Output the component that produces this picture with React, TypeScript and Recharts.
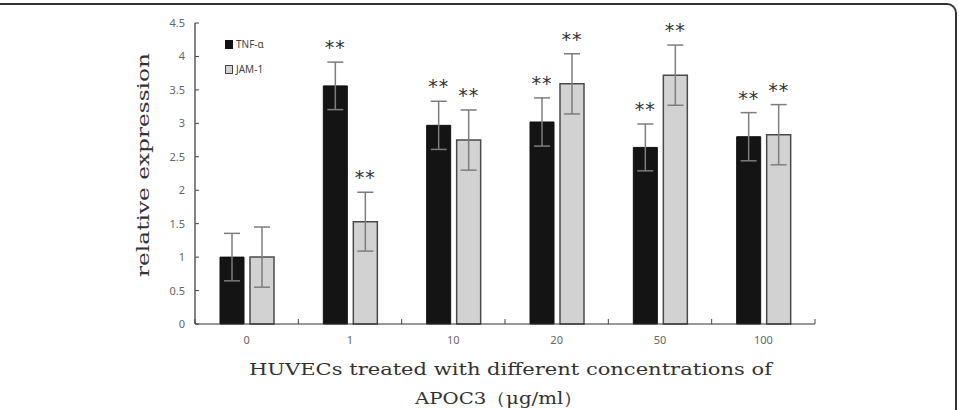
import React from 'react';
import {
    BarChart,
    Bar,
    XAxis,
    YAxis,
    ErrorBar,
    LabelList,
} from 'recharts';

// concentrations of APOC3 (µg/ml)
const categories = ['0', '1', '10', '20', '50', '100'];

const tnfValues = [1.0, 3.56, 2.97, 3.02, 2.64, 2.8];
const tnfErrors = [0.355, 0.355, 0.36, 0.36, 0.35, 0.36];
const tnfSig = ['', '**', '**', '**', '**', '**'];

const jamValues = [1.0, 1.53, 2.75, 3.59, 3.72, 2.83];
const jamErrors = [0.45, 0.44, 0.45, 0.45, 0.45, 0.45];
const jamSig = ['', '**', '**', '**', '**', '**'];

const yTicks = [0, 0.5, 1, 1.5, 2, 2.5, 3, 3.5, 4, 4.5];

const data = categories.map((name, i) => ({
    name,
    tnf: tnfValues[i],
    tnfErr: tnfErrors[i],
    tnfSig: tnfSig[i],
    jam: jamValues[i],
    jamErr: jamErrors[i],
    jamSig: jamSig[i],
}));

const TICK_FONT = '"Noto Sans", "Liberation Sans", sans-serif';
const TITLE_FONT = '"DejaVu Serif", "Liberation Serif", serif';

const YTick = ({ x, y, payload }: any) => (
    <g>
        <line x1={x + 10} x2={x + 14} y1={y} y2={y} stroke="#444" strokeWidth={1} />
        <text x={x} y={y} dy={4} textAnchor="end" fontSize={11} fill="#666" fontFamily={TICK_FONT}>
            {payload.value}
        </text>
    </g>
);

// category label + small inward tick marks on the band edges (Excel style)
const XTick = (props: any) => {
    const { x, y, payload, index, visibleTicksCount, width } = props;
    const band = (width || 620) / (visibleTicksCount || categories.length);
    const axisY = y - 11;
    const last = index === (visibleTicksCount || categories.length) - 1;
    return (
        <g>
            <line x1={x - band / 2} x2={x - band / 2} y1={axisY} y2={axisY - 5} stroke="#444" />
            {last && <line x1={x + band / 2} x2={x + band / 2} y1={axisY} y2={axisY - 5} stroke="#444" />}
            <text x={x} y={y} dy={9} textAnchor="middle" fontSize={11} fill="#666" fontFamily={TICK_FONT}>
                {payload.value}
            </text>
        </g>
    );
};

const makeStars = (values: number[], errors: number[]) => (props: any) => {
    const { x, y, width, height, value, index } = props;
    if (!value) return null;
    const errTop = y - (errors[index] * height) / values[index];
    return (
        <text
            x={x + width / 2}
            y={errTop - 8}
            textAnchor="middle"
            fontSize={19}
            letterSpacing={1}
            fill="#333"
            fontFamily='"DejaVu Sans", sans-serif'
        >
            {value}
        </text>
    );
};

const LegendBox = () => (
    <div
        style={{
            position: 'absolute',
            left: 225,
            top: 38,
            fontFamily: TICK_FONT,
            fontSize: 10,
            color: '#444',
            lineHeight: '12px',
        }}
    >
        <div style={{ display: 'flex', alignItems: 'center', gap: 3, marginBottom: 13 }}>
            <span style={{ width: 6, height: 7, background: '#111', border: '1px solid #111' }} />
            <span>TNF-α</span>
        </div>
        <div style={{ display: 'flex', alignItems: 'center', gap: 3 }}>
            <span style={{ width: 6, height: 7, background: '#d2d2d2', border: '1px solid #444' }} />
            <span>JAM-1</span>
        </div>
    </div>
);

export default function App() {
    return (
        <div
            style={{
                position: 'fixed',
                left: 0,
                top: 0,
                width: 959,
                height: 410,
                overflow: 'hidden',
                background: '#fff',
            }}
        >
            {/* figure frame: only top and right edges visible */}
            <div
                style={{
                    position: 'absolute',
                    left: -20,
                    top: 3,
                    width: 975,
                    height: 440,
                    borderTop: '2px solid #333',
                    borderRight: '2px solid #333',
                    borderTopRightRadius: 10,
                }}
            />
            <BarChart
                width={959}
                height={410}
                data={data}
                margin={{ top: 23, right: 144, bottom: 0, left: 0 }}
                barSize={24}
                barGap={6}
                style={{ position: 'absolute', left: 0, top: 0 }}
            >
                <XAxis
                    dataKey="name"
                    height={86}
                    axisLine={{ stroke: '#333', strokeWidth: 1.2 }}
                    tickLine={false}
                    tickSize={0}
                    tickMargin={11}
                    tick={<XTick />}
                    label={() => (
                        <g fontFamily={TITLE_FONT} fontSize={17} fill="#333">
                            <text x={249} y={375} textLength={523} lengthAdjust="spacingAndGlyphs">
                                HUVECs treated with different concentrations of
                            </text>
                            <text x={415} y={404} textLength={168} lengthAdjust="spacingAndGlyphs">
                                APOC3（μg/ml）
                            </text>
                        </g>
                    )}
                />
                <YAxis
                    width={195}
                    domain={[0, 4.5]}
                    ticks={yTicks}
                    axisLine={{ stroke: '#333', strokeWidth: 1.2 }}
                    tickLine={false}
                    tickSize={0}
                    tickMargin={10}
                    tick={<YTick />}
                    label={() => (
                        <text
                            x={0}
                            y={0}
                            transform="translate(149 277) rotate(-90)"
                            fontFamily={TITLE_FONT}
                            fontSize={17}
                            textLength={224}
                            lengthAdjust="spacingAndGlyphs"
                            fill="#333"
                        >
                            relative expression
                        </text>
                    )}
                />
                <Bar dataKey="tnf" fill="#141414" stroke="#111" strokeWidth={1} isAnimationActive={false}>
                    <ErrorBar dataKey="tnfErr" width={8} stroke="#7d7d7d" strokeWidth={1.5} />
                    <LabelList dataKey="tnfSig" content={makeStars(tnfValues, tnfErrors)} />
                </Bar>
                <Bar dataKey="jam" fill="#d2d2d2" stroke="#4a4a4a" strokeWidth={1.5} isAnimationActive={false}>
                    <ErrorBar dataKey="jamErr" width={8} stroke="#7d7d7d" strokeWidth={1.5} />
                    <LabelList dataKey="jamSig" content={makeStars(jamValues, jamErrors)} />
                </Bar>
            </BarChart>
            <LegendBox />
        </div>
    );
}
